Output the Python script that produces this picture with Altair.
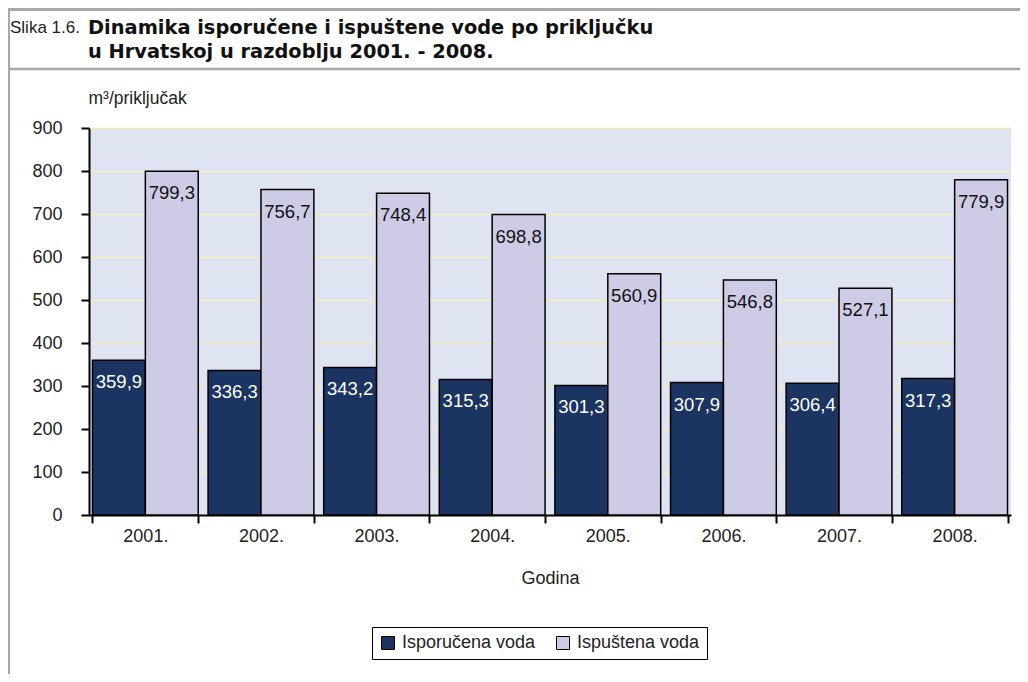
import altair as alt
import pandas as pd

years = ["2001.", "2002.", "2003.", "2004.", "2005.", "2006.", "2007.", "2008."]
isporucena = [359.9, 336.3, 343.2, 315.3, 301.3, 307.9, 306.4, 317.3]
ispustena = [799.3, 756.7, 748.4, 698.8, 560.9, 546.8, 527.1, 779.9]
series_names = ["Isporučena voda", "Ispuštena voda"]
y_ticks = [0, 100, 200, 300, 400, 500, 600, 700, 800, 900]

title_prefix = "Slika 1.6."
title_lines = ["Dinamika isporučene i ispuštene vode po priključku",
               "u Hrvatskoj u razdoblju 2001. - 2008."]
x_title = "Godina"
y_title = "m³/priključak"

rows = []
for i, yr in enumerate(years):
    for s, vals in zip(series_names, [isporucena, ispustena]):
        v = vals[i]
        rows.append({"year": yr, "series": s, "value": v,
                     "label": f"{v:.1f}".replace(".", ",")})
df = pd.DataFrame(rows)

FONT = "Liberation Sans"
DARK = "#1b3461"
LIGHT = "#cdcbe6"

xenc = alt.X("year:N", sort=years,
             scale=alt.Scale(paddingInner=0.085, paddingOuter=0.03),
             axis=alt.Axis(title=x_title, labelAngle=0, tickBand="extent",
                           domainColor="black", domainWidth=2,
                           tickColor="black", tickWidth=2, tickSize=8,
                           labelFont=FONT, labelFontSize=18, labelColor="#222",
                           labelPadding=4, titleFont=FONT, titleFontSize=18,
                           titleFontWeight="normal", titleColor="#222",
                           titlePadding=24, grid=False))
xoff = alt.XOffset("series:N", sort=series_names,
                   scale=alt.Scale(paddingInner=0, paddingOuter=0))
yenc = alt.Y("value:Q", scale=alt.Scale(domain=[0, 900], nice=False),
             axis=alt.Axis(values=y_ticks, title=y_title, titleAngle=0,
                           titleX=-1, titleY=-30, titleAlign="left",
                           titleBaseline="middle", titleFont=FONT,
                           titleFontSize=17.5, titleFontWeight="normal",
                           titleColor="#222",
                           domainColor="black", domainWidth=2,
                           tickColor="black", tickWidth=2, tickSize=8,
                           labelFont=FONT, labelFontSize=18, labelColor="#222",
                           labelPadding=19, grid=True, gridColor="#f2ecb8",
                           gridWidth=1.5))

base = alt.Chart(df).encode(x=xenc, xOffset=xoff, y=yenc)

bars = base.mark_bar(stroke="black", strokeWidth=1.5).encode(
    color=alt.Color("series:N", sort=series_names,
                    scale=alt.Scale(domain=series_names, range=[DARK, LIGHT]),
                    legend=alt.Legend(title=None, orient="none", legendX=283,
                                      legendY=499, direction="horizontal",
                                      strokeColor="black", fillColor="white",
                                      padding=7, symbolType="square",
                                      symbolSize=169, symbolStrokeColor="black",
                                      symbolStrokeWidth=1, labelFont=FONT,
                                      labelFontSize=18, labelColor="#222",
                                      columnPadding=18, labelOffset=5))
)

text_dark = base.mark_text(baseline="middle", dy=22, fontSize=18.5, font=FONT,
                           color="white").encode(text="label:N").transform_filter(
    alt.datum.series == series_names[0])
text_light = base.mark_text(baseline="middle", dy=22, fontSize=18.5, font=FONT,
                            color="#111").encode(text="label:N").transform_filter(
    alt.datum.series == series_names[1])

one = pd.DataFrame({"k": [0]})

t_prefix = alt.Chart(pd.DataFrame({"t": [title_prefix]})).mark_text(
    align="left", baseline="middle", fontSize=17, font=FONT, color="#222"
).encode(x=alt.value(-79), y=alt.value(-100), text="t:N")
t_line1 = alt.Chart(pd.DataFrame({"t": [title_lines[0]]})).mark_text(
    align="left", baseline="middle", fontSize=19.4, font="DejaVu Sans",
    fontWeight="bold", color="#111"
).encode(x=alt.value(-1), y=alt.value(-100), text="t:N")
t_line2 = alt.Chart(pd.DataFrame({"t": [title_lines[1]]})).mark_text(
    align="left", baseline="middle", fontSize=19.4, font="DejaVu Sans",
    fontWeight="bold", color="#111"
).encode(x=alt.value(-1), y=alt.value(-76), text="t:N")

frame_top = alt.Chart(one).mark_rule(color="#a8a8a8", strokeWidth=3).encode(
    x=alt.value(-81), x2=alt.value(940), y=alt.value(-118.5))
frame_sep = alt.Chart(one).mark_rule(color="#a8a8a8", strokeWidth=2.5).encode(
    x=alt.value(-81), x2=alt.value(940), y=alt.value(-59))
frame_left = alt.Chart(one).mark_rule(color="#a8a8a8", strokeWidth=2).encode(
    x=alt.value(-80), y=alt.value(-120), y2=alt.value(560))

chart = alt.layer(
    bars, text_dark, text_light, t_prefix, t_line1, t_line2,
    frame_top, frame_sep, frame_left
).properties(
    width=922, height=387,
    autosize=alt.AutoSizeParams(type="none"),
    padding={"left": 81, "top": 120, "right": 9, "bottom": 159},
    background="white",
).configure_view(fill="#dfe4f3", stroke=None)

chart.save("out.html", embed_options={"renderer": "svg", "actions": False})
